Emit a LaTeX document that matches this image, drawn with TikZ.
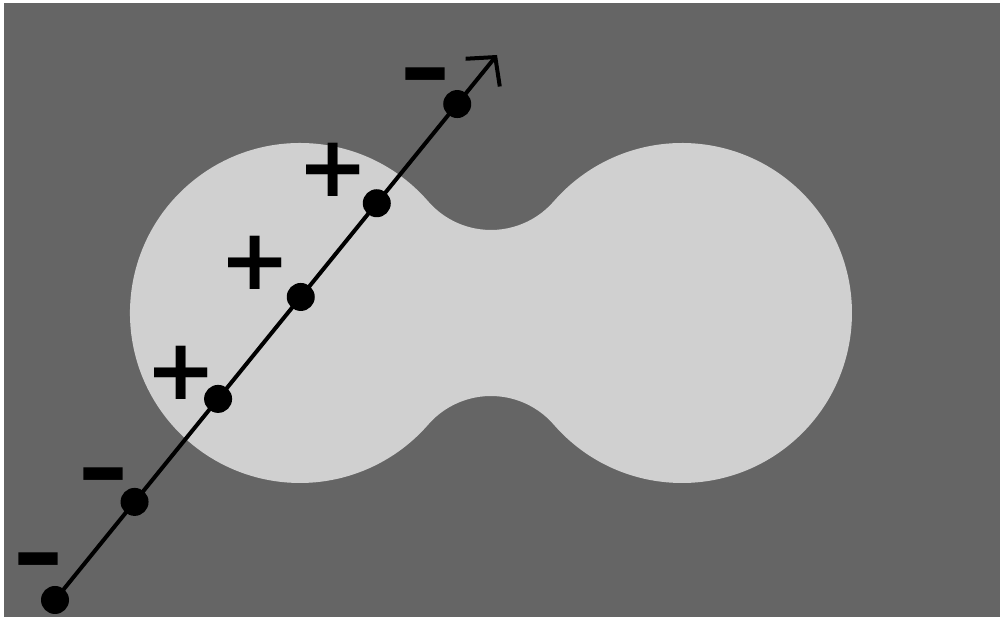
\documentclass[tikz,border=0pt]{standalone}
\usepackage{fontspec}
\newfontfamily\signfont{DejaVu Sans}
\usetikzlibrary{arrows.meta,calc}
\definecolor{bggray}{RGB}{101,101,101}
\definecolor{blobgray}{RGB}{208,208,208}

\begin{document}
\begin{tikzpicture}[x=1pt,y=1pt,>={Straight Barb[length=20pt,width=44pt]},
  dot/.style={circle,fill=black,inner sep=0pt,minimum size=28pt},
  sgn/.style={font=\signfont\bfseries\fontsize{85}{85}\selectfont,inner sep=0pt},
  neg/.style={font=\signfont\bfseries\fontsize{100}{100}\selectfont,inner sep=0pt,anchor=south}]
\useasboundingbox (0,0) rectangle (1000,617);
\fill[bggray] (4,0) rectangle (1000,614);
% two discs joined by a waist
\fill[blobgray] (428.2,415.6) arc[start angle=41.03,end angle=318.97,radius=170]
  arc[start angle=138.97,end angle=41.03,radius=83.2]
  arc[start angle=221.03,end angle=498.97,radius=170]
  arc[start angle=318.97,end angle=221.03,radius=83.2] -- cycle;
% the axis and its points
\coordinate (s) at (55,17);
\coordinate (e) at (497,562);
\draw[->,line width=4pt] (s) -- (e);
\node[dot] (d1) at (s) {};
\node[dot] (d2) at ($(s)!0.180!(e)$) {};
\node[dot] (d3) at ($(s)!0.369!(e)$) {};
\node[dot] (d4) at ($(s)!0.556!(e)$) {};
\node[dot] (d5) at ($(s)!0.728!(e)$) {};
\node[dot] (d6) at ($(s)!0.910!(e)$) {};
% signs
\node[neg] (m1) at (38,30) {–};
\node[neg] (m2) at (103,115) {–};
\node[sgn] (p1) at (181,244) {+};
\node[sgn] (p2) at (255,354) {+};
\node[sgn] (p3) at (333,447) {+};
\node[neg] (m3) at (425,515) {–};
\end{tikzpicture}
\end{document}
